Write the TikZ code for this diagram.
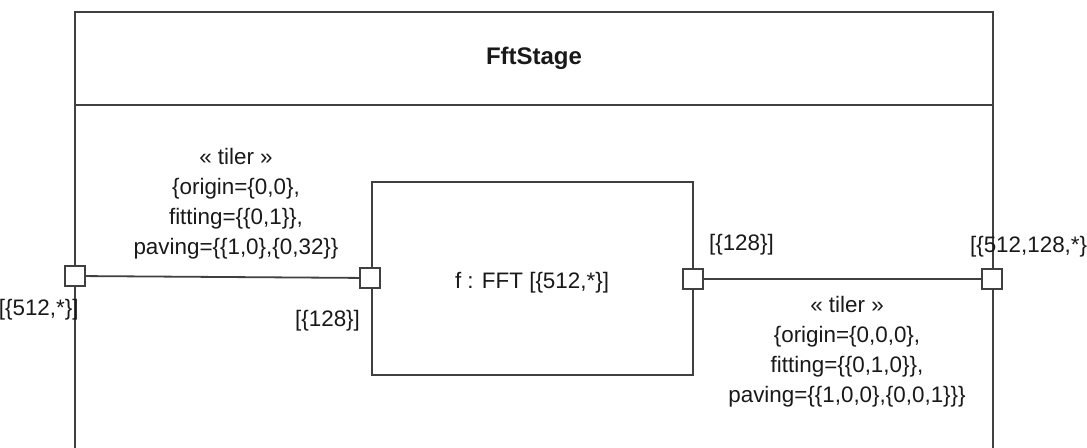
\documentclass[tikz,border=0pt]{standalone}
\usepackage{fontspec}
\setmainfont{Liberation Sans}
\begin{document}
\begin{tikzpicture}[
    x=0.5pt, y=-0.5pt,
    every node/.style={font=\fontsize{11.2}{15}\selectfont, text=black!90},
    framebox/.style={draw=black!75, line width=0.9pt},
    partbox/.style={draw=black!75, line width=0.9pt, fill=white, minimum width=160.5pt, minimum height=96.5pt, inner sep=0pt},
    portbox/.style={draw=black!75, line width=0.9pt, fill=white, minimum size=10pt, inner sep=0pt},
    wire/.style={draw=black!75, line width=0.9pt},
    tilerlabel/.style={align=center, inner sep=1pt},
]
\useasboundingbox (0,0) rectangle (1087,448);

% Outer structured class
\draw[framebox] (75,470) -- (75,12) -- (993,12) -- (993,470);
\draw[framebox] (75,105) -- (993,105);
\node[font=\fontsize{12}{14}\selectfont\bfseries] (title) at (534,58) {FftStage};

% Inner part
\node[partbox] (f) at (532.5,278.5) {};
\node (flabel) at (532,283) {f : FFT [\{512,*\}]};

% Ports
\node[portbox] (pin) at (75,276) {};
\node[portbox] (fin) at (370,278) {};
\node[portbox] (fout) at (693,279) {};
\node[portbox] (pout) at (992,279) {};

% Connectors
\draw[wire] (pin) -- (fin);
\draw[wire] (fout) -- (pout);

% Port shapes
\node[anchor=east, inner sep=0pt] (pinshape) at (79,310) {[\{512,*\}]};
\node[anchor=east] (finshape) at (367,321) {[\{128\}]};
\node[anchor=west] (foutshape) at (702,245) {[\{128\}]};
\node[anchor=west] (poutshape) at (963,247) {[\{512,128,*\}]};

% Tiler specifications
\node[tilerlabel] (tilerin) at (236,204) {« tiler »\\\{origin=\{0,0\},\\fitting=\{\{0,1\}\},\\paving=\{\{1,0\},\{0,32\}\}};
\node[tilerlabel] (tilerout) at (847,352) {« tiler »\\\{origin=\{0,0,0\},\\fitting=\{\{0,1,0\}\},\\paving=\{\{1,0,0\},\{0,0,1\}\}\}};
\end{tikzpicture}
\end{document}
